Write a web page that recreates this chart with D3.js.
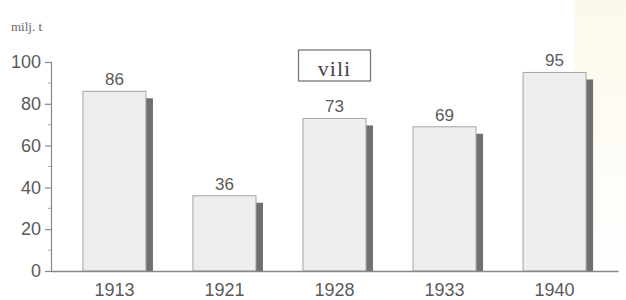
<!DOCTYPE html>
<html>
<head>
<meta charset="utf-8">
<script src="https://cdn.jsdelivr.net/npm/d3@7"></script>
<style>
	body { margin: 0; background: #fff; }
	svg { display: block; }
</style>
</head>
<body>
<svg width="626" height="300"></svg>
<script>
var years = ["1913", "1921", "1928", "1933", "1940"];
var values = [86, 36, 73, 69, 95];
var yTicks = [0, 20, 40, 60, 80, 100];
var yMinorTicks = [10, 30, 50, 70, 90];
var unitLabel = "milj. t";
var boxLabel = "vili";

var svg = d3.select("svg"),
	width = +svg.attr("width"),
	height = +svg.attr("height");

var axisX = 51;

var x = d3.scaleBand()
	.domain(years)
	.range([axisX, 618])
	.paddingInner(0.427)
	.paddingOuter(0.29);

var y = d3.scaleLinear()
	.domain([0, 100])
	.range([271, 62]);

var shadowW = 7;

// faint paper tint at right edge of the scan
var defs = svg.append("defs");
var grad = defs.append("linearGradient")
	.attr("id", "tint")
	.attr("x1", 0).attr("y1", 0).attr("x2", 0).attr("y2", 1);
grad.append("stop").attr("offset", "0%").attr("stop-color", "#fcf8ea");
grad.append("stop").attr("offset", "100%").attr("stop-color", "#ffffff");
svg.append("rect")
	.attr("x", 574)
	.attr("y", 0)
	.attr("width", width - 574)
	.attr("height", 270)
	.attr("fill", "url(#tint)");

// unit label
svg.append("text")
	.attr("x", 11)
	.attr("y", 31)
	.attr("font-family", "Liberation Serif, serif")
	.attr("font-size", 13)
	.attr("fill", "#666")
	.text(unitLabel);

// y axis
var yAxis = d3.axisLeft(y)
	.tickValues(yTicks)
	.tickSize(6)
	.tickPadding(4)
	.tickFormat(d3.format("d"));

var gy = svg.append("g")
	.attr("transform", "translate(" + axisX + ",0)")
	.call(yAxis);
gy.select(".domain").attr("stroke", "#888").attr("stroke-width", 1.2);
gy.selectAll(".tick line").attr("stroke", "#888").attr("stroke-width", 1.2);
gy.selectAll(".tick text")
	.attr("font-family", "Liberation Sans, Arial, sans-serif")
	.attr("font-size", 18)
	.attr("fill", "#5a5a5a");

svg.append("g")
	.selectAll("line")
	.data(yMinorTicks)
	.enter().append("line")
	.attr("x1", axisX - 3)
	.attr("x2", axisX)
	.attr("y1", function(d) { return y(d); })
	.attr("y2", function(d) { return y(d); })
	.attr("stroke", "#aaa")
	.attr("stroke-width", 1);

var data = years.map(function(yr, i) { return { year: yr, val: values[i] }; });

// shadows
svg.selectAll(".shadow")
	.data(data)
	.enter().append("rect")
	.attr("class", "shadow")
	.attr("x", function(d) { return x(d.year) + x.bandwidth(); })
	.attr("y", function(d) { return y(d.val) + 7; })
	.attr("width", shadowW)
	.attr("height", function(d) { return y(0) - y(d.val) - 7; })
	.attr("fill", "#707070");

// bars
svg.selectAll(".bar")
	.data(data)
	.enter().append("rect")
	.attr("class", "bar")
	.attr("x", function(d) { return x(d.year); })
	.attr("y", function(d) { return y(d.val); })
	.attr("width", x.bandwidth())
	.attr("height", function(d) { return y(0) - y(d.val); })
	.attr("fill", "#eeeeec")
	.attr("stroke", "#a4a4a4")
	.attr("stroke-width", 1);

// value labels
svg.selectAll(".val")
	.data(data)
	.enter().append("text")
	.attr("class", "val")
	.attr("x", function(d) { return x(d.year) + x.bandwidth() / 2; })
	.attr("y", function(d) { return y(d.val) - 6; })
	.attr("text-anchor", "middle")
	.attr("font-family", "Liberation Sans, Arial, sans-serif")
	.attr("font-size", 17)
	.attr("fill", "#5a5a5a")
	.text(function(d) { return d.val; });

// baseline / x axis
var gx = svg.append("g")
	.attr("transform", "translate(0," + y(0) + ")")
	.call(d3.axisBottom(x).tickSize(0).tickPadding(12));
gx.select(".domain").attr("stroke", "#888").attr("stroke-width", 1.5);
gx.selectAll(".tick text")
	.attr("font-family", "Liberation Sans, Arial, sans-serif")
	.attr("font-size", 18)
	.attr("fill", "#5a5a5a");

// boxed label over the 1928 bar
var bx = x("1928") + x.bandwidth() / 2;
svg.append("rect")
	.attr("x", bx - 36)
	.attr("y", 50)
	.attr("width", 72)
	.attr("height", 31)
	.attr("fill", "#fff")
	.attr("stroke", "#777")
	.attr("stroke-width", 1.3);
svg.append("text")
	.attr("x", bx)
	.attr("y", 76)
	.attr("text-anchor", "middle")
	.attr("font-family", "Liberation Serif, serif")
	.attr("font-size", 22)
	.attr("letter-spacing", 1)
	.attr("fill", "#444")
	.text(boxLabel);
</script>
</body>
</html>
